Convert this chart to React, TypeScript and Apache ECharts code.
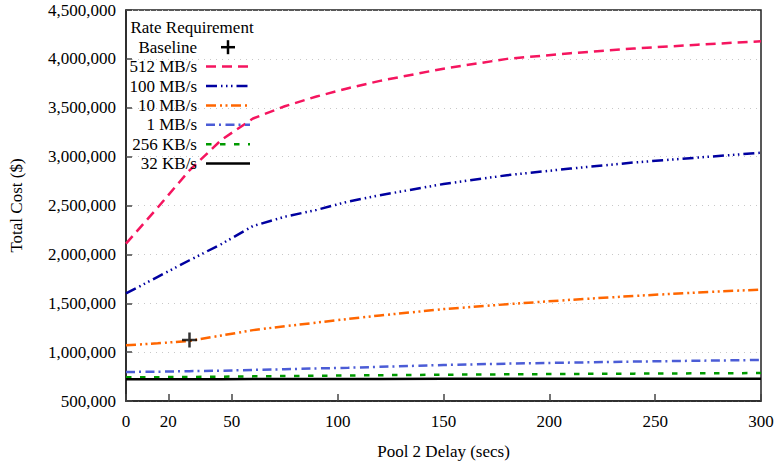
import React, { useEffect, useRef } from "react";
import * as echarts from "echarts";

const delays = [0, 15, 30, 45, 60, 75, 90, 105, 120, 150, 180, 210, 240, 270, 300];
const rate512MB = [2110000, 2480000, 2860000, 3170000, 3390000, 3515000, 3615000, 3700000, 3775000, 3900000, 4000000, 4058000, 4106000, 4145000, 4180000];
const rate100MB = [1600000, 1770000, 1940000, 2105000, 2290000, 2385000, 2455000, 2540000, 2605000, 2720000, 2810000, 2878000, 2940000, 2990000, 3040000];
const rate10MB = [1070000, 1090000, 1115000, 1170000, 1225000, 1265000, 1302000, 1340000, 1375000, 1440000, 1490000, 1535000, 1575000, 1610000, 1640000];
const rate1MB = [797000, 800000, 805000, 810000, 818000, 825000, 833000, 840000, 850000, 868000, 882000, 893000, 903000, 912000, 920000];
const rate256KB = [742000, 744000, 746000, 749000, 752000, 755000, 758000, 761000, 764000, 769000, 773000, 777000, 780000, 783000, 786000];
const rate32KB = [722000, 722500, 723000, 723500, 724000, 724500, 725000, 725500, 726000, 726500, 727000, 727500, 728000, 728000, 728500];
const baselinePoint = [30, 1125000];
const xTickValues = [0, 20, 50, 100, 150, 200, 250, 300];

const seriesDefs = [
  { name: "512 MB/s", data: rate512MB, color: "#f5155f", dash: [10, 6] },
  { name: "100 MB/s", data: rate100MB, color: "#0000a0", dash: [11, 4, 1.5, 3.5, 1.5, 3.5, 1.5, 4] },
  { name: "10 MB/s", data: rate10MB, color: "#ff6600", dash: [10, 4, 2, 3.5, 2, 3.5] },
  { name: "1 MB/s", data: rate1MB, color: "#4b5cd6", dash: [9, 4, 2, 4.5] },
  { name: "256 KB/s", data: rate256KB, color: "#009a00", dash: [5.5, 8.5] },
  { name: "32 KB/s", data: rate32KB, color: "#000000", dash: "solid" as any },
];

const FONT = "Liberation Serif";
const FS = 17;

export default function App() {
  const ref = useRef<HTMLDivElement>(null);
  useEffect(() => {
    if (!ref.current) return;
    document.body.style.margin = "0";
    const chart = echarts.init(ref.current, undefined, { renderer: "svg" });

    const legendRight = 197;
    const legendLineX1 = 206;
    const legendLineX2 = 250;
    const rowY0 = 47.2;
    const rowStep = 19.4;
    const graphics: any[] = [
      {
        type: "text",
        z: 100,
        style: {
          text: "Rate Requirement",
          x: 192,
          y: 27.5,
          textAlign: "center",
          textVerticalAlign: "middle",
          font: `${FS}px "${FONT}"`,
          fill: "#000",
        },
      },
      {
        type: "text",
        z: 100,
        style: {
          text: "Baseline",
          x: legendRight,
          y: rowY0,
          textAlign: "right",
          textVerticalAlign: "middle",
          font: `${FS}px "${FONT}"`,
          fill: "#000",
        },
      },
      { type: "rect", z: 100, shape: { x: 221, y: rowY0 - 1.25, width: 14, height: 2.5 }, style: { fill: "#000" } },
      { type: "rect", z: 100, shape: { x: 226.75, y: rowY0 - 7, width: 2.5, height: 14 }, style: { fill: "#000" } },
    ];
    seriesDefs.forEach((s, i) => {
      const y = rowY0 + rowStep * (i + 1);
      graphics.push({
        type: "text",
        z: 100,
        style: {
          text: s.name,
          x: legendRight,
          y,
          textAlign: "right",
          textVerticalAlign: "middle",
          font: `${FS}px "${FONT}"`,
          fill: "#000",
        },
      });
      graphics.push({
        type: "line",
        z: 100,
        shape: { x1: legendLineX1, y1: y, x2: legendLineX2, y2: y },
        style: {
          stroke: s.color,
          lineWidth: 2.5,
          lineDash: Array.isArray(s.dash) ? s.dash : null,
        },
      });
    });

    const option: any = {
      animation: false,
      backgroundColor: "#fff",
      textStyle: { fontFamily: FONT },
      grid: {
        left: 120,
        right: 16,
        top: 10,
        bottom: 65,
        show: true,
        borderColor: "#222",
        borderWidth: 1.5,
        containLabel: false,
      },
      xAxis: {
        type: "value",
        min: 0,
        max: 300,
        interval: 10,
        name: "Pool 2 Delay (secs)",
        nameLocation: "middle",
        nameGap: 42,
        nameTextStyle: { fontFamily: FONT, fontSize: FS, color: "#000" },
        axisLine: { show: true, lineStyle: { color: "#222", width: 1.5 } },
        axisTick: {
          show: true,
          inside: true,
          length: 7,
          customValues: xTickValues,
          lineStyle: { color: "#444", width: 1.5 },
        },
        axisLabel: {
          customValues: xTickValues,
          margin: 12,
          fontFamily: FONT,
          fontSize: FS,
          color: "#000",
        },
        splitLine: { show: false },
      },
      yAxis: {
        type: "value",
        min: 500000,
        max: 4500000,
        interval: 500000,
        name: "Total Cost ($)",
        nameLocation: "middle",
        nameGap: 101,
        nameTextStyle: { fontFamily: FONT, fontSize: FS, color: "#000" },
        axisLine: { show: true, lineStyle: { color: "#222", width: 1.5 } },
        axisTick: { show: true, inside: true, length: 6, lineStyle: { color: "#444", width: 1.5 } },
        axisLabel: {
          margin: 10,
          fontFamily: FONT,
          fontSize: FS,
          color: "#000",
          formatter: (v: number) => v.toLocaleString("en-US"),
        },
        splitLine: { show: true, lineStyle: { color: "#c8c8c8", width: 1, type: [1, 5] } },
      },
      series: [
        ...seriesDefs.map((s) => ({
          name: s.name,
          type: "line",
          data: delays.map((d, i) => [d, s.data[i]]),
          showSymbol: false,
          symbol: "none",
          lineStyle: { color: s.color, width: 2.5, type: s.dash },
          itemStyle: { color: s.color },
        })),
        {
          name: "Baseline",
          type: "scatter",
          data: [baselinePoint],
          symbol: "path://M5,0h2v5h5v2h-5v5h-2v-5h-5v-2h5z",
          symbolSize: 15,
          itemStyle: { color: "#000" },
          z: 10,
        },
      ],
      graphic: graphics,
    };
    chart.setOption(option);
    return () => chart.dispose();
  }, []);
  return (
    <div
      ref={ref}
      style={{ position: "absolute", left: 0, top: 0, width: 777, height: 466 }}
    />
  );
}
